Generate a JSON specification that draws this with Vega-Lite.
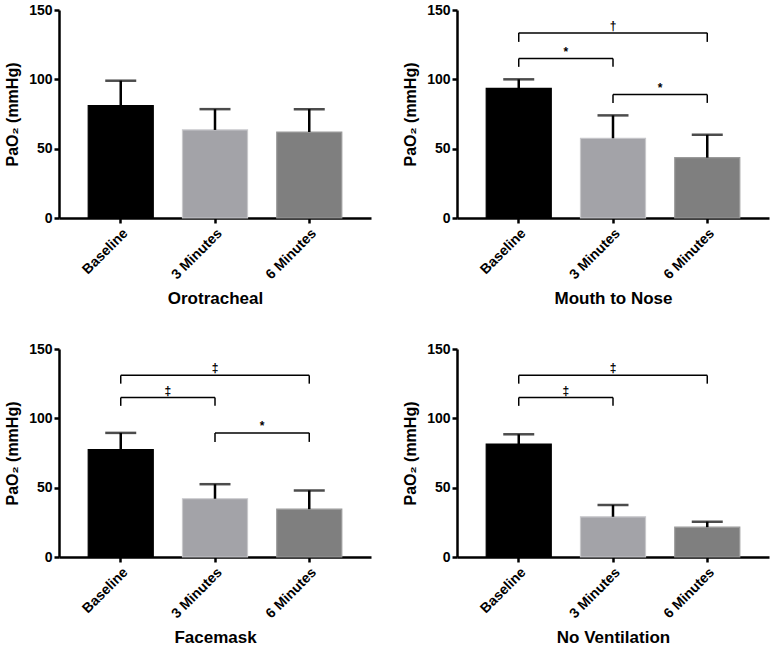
{
  "$schema": "https://vega.github.io/schema/vega-lite/v6.json",
  "background": "white",
  "padding": {"left": 4, "top": 3, "right": 2, "bottom": 1},
  "config": {
    "font": "Liberation Sans",
    "view": {"stroke": null},
    "axis": {
      "grid": false,
      "domainColor": "black",
      "domainWidth": 2.5,
      "tickColor": "black",
      "tickWidth": 2.5,
      "tickSize": 5,
      "labelColor": "black",
      "labelFont": "Liberation Sans",
      "labelFontWeight": "bold",
      "labelFontSize": 14,
      "titleColor": "black",
      "titleFont": "Liberation Sans",
      "titleFontWeight": "bold"
    },
    "axisX": {"labelAngle": -45, "titleFontSize": 17, "titlePadding": 9, "labelPadding": 3},
    "axisY": {"titleFontSize": 16, "titlePadding": 8, "labelPadding": 2}
  },
  "data": {
    "values": [
      {"kind": "bar", "panel": "Orotracheal", "group": "Baseline", "mean": 81, "err": 99},
      {"kind": "bar", "panel": "Orotracheal", "group": "3 Minutes", "mean": 63.5, "err": 78.5},
      {"kind": "bar", "panel": "Orotracheal", "group": "6 Minutes", "mean": 62, "err": 78.5},
      {"kind": "bar", "panel": "Mouth to Nose", "group": "Baseline", "mean": 93.5, "err": 100},
      {"kind": "bar", "panel": "Mouth to Nose", "group": "3 Minutes", "mean": 57.5, "err": 74},
      {"kind": "bar", "panel": "Mouth to Nose", "group": "6 Minutes", "mean": 43.5, "err": 60},
      {"kind": "bar", "panel": "Facemask", "group": "Baseline", "mean": 77.5, "err": 89.5},
      {"kind": "bar", "panel": "Facemask", "group": "3 Minutes", "mean": 42, "err": 52.5},
      {"kind": "bar", "panel": "Facemask", "group": "6 Minutes", "mean": 34.5, "err": 48},
      {"kind": "bar", "panel": "No Ventilation", "group": "Baseline", "mean": 81.5, "err": 88.5},
      {"kind": "bar", "panel": "No Ventilation", "group": "3 Minutes", "mean": 29, "err": 37.5},
      {"kind": "bar", "panel": "No Ventilation", "group": "6 Minutes", "mean": 21.5, "err": 25.5},
      {"kind": "bracket", "panel": "Mouth to Nose", "group": "Baseline", "to": "6 Minutes", "level": 133.5, "foot": 127, "sig": "†", "span": 2},
      {"kind": "bracket", "panel": "Mouth to Nose", "group": "Baseline", "to": "3 Minutes", "level": 115, "foot": 109, "sig": "*", "span": 1},
      {"kind": "bracket", "panel": "Mouth to Nose", "group": "3 Minutes", "to": "6 Minutes", "level": 89, "foot": 83, "sig": "*", "span": 1},
      {"kind": "bracket", "panel": "Facemask", "group": "Baseline", "to": "6 Minutes", "level": 131, "foot": 125, "sig": "‡", "span": 2},
      {"kind": "bracket", "panel": "Facemask", "group": "Baseline", "to": "3 Minutes", "level": 115, "foot": 109, "sig": "‡", "span": 1},
      {"kind": "bracket", "panel": "Facemask", "group": "3 Minutes", "to": "6 Minutes", "level": 89.5, "foot": 83, "sig": "*", "span": 1},
      {"kind": "bracket", "panel": "No Ventilation", "group": "Baseline", "to": "6 Minutes", "level": 131, "foot": 125, "sig": "‡", "span": 2},
      {"kind": "bracket", "panel": "No Ventilation", "group": "Baseline", "to": "3 Minutes", "level": 115, "foot": 109, "sig": "‡", "span": 1}
    ]
  },
  "columns": 2,
  "spacing": {"row": 35, "column": 31},
  "concat": [
    {
      "width": 312, "height": 208,
      "transform": [{"filter": "datum.panel === 'Orotracheal'"}],
      "encoding": {
        "x": {"field": "group", "type": "nominal", "sort": ["Baseline", "3 Minutes", "6 Minutes"],
              "scale": {"domain": ["Baseline", "3 Minutes", "6 Minutes"], "paddingInner": 0.31, "paddingOuter": 0.31},
              "axis": {"title": "Orotracheal"}}
      },
      "layer": [
        {"transform": [{"filter": "datum.kind === 'bar'"}],
         "mark": {"type": "bar", "strokeWidth": 1.2},
         "encoding": {
           "y": {"field": "mean", "type": "quantitative", "scale": {"domain": [0, 150], "nice": false},
                 "axis": {"title": "PaO₂ (mmHg)", "values": [0, 50, 100, 150]}},
           "color": {"field": "group", "type": "nominal", "legend": null,
                     "scale": {"domain": ["Baseline", "3 Minutes", "6 Minutes"], "range": ["#000000", "#a3a3a8", "#7f7f7f"]}},
           "stroke": {"field": "group", "type": "nominal", "legend": null,
                      "scale": {"domain": ["Baseline", "3 Minutes", "6 Minutes"], "range": ["#000000", "#c8c8cb", "#9a9a9a"]}}
         }},
        {"transform": [{"filter": "datum.kind === 'bar'"}],
         "mark": {"type": "rule", "color": "black", "strokeWidth": 2.5},
         "encoding": {"y": {"field": "mean", "type": "quantitative", "axis": {"title": "PaO₂ (mmHg)", "values": [0, 50, 100, 150]}}, "y2": {"field": "err"}}},
        {"transform": [{"filter": "datum.kind === 'bar'"}],
         "mark": {"type": "tick", "color": "black", "thickness": 2.5, "size": 31},
         "encoding": {"y": {"field": "err", "type": "quantitative", "axis": {"title": "PaO₂ (mmHg)", "values": [0, 50, 100, 150]}}}}
      ]
    },
    {
      "width": 312, "height": 208,
      "transform": [{"filter": "datum.panel === 'Mouth to Nose'"}],
      "encoding": {
        "x": {"field": "group", "type": "nominal", "sort": ["Baseline", "3 Minutes", "6 Minutes"],
              "scale": {"domain": ["Baseline", "3 Minutes", "6 Minutes"], "paddingInner": 0.31, "paddingOuter": 0.31},
              "axis": {"title": "Mouth to Nose"}}
      },
      "layer": [
        {"transform": [{"filter": "datum.kind === 'bar'"}],
         "mark": {"type": "bar", "strokeWidth": 1.2},
         "encoding": {
           "y": {"field": "mean", "type": "quantitative", "scale": {"domain": [0, 150], "nice": false},
                 "axis": {"title": "PaO₂ (mmHg)", "values": [0, 50, 100, 150]}},
           "color": {"field": "group", "type": "nominal", "legend": null,
                     "scale": {"domain": ["Baseline", "3 Minutes", "6 Minutes"], "range": ["#000000", "#a3a3a8", "#7f7f7f"]}},
           "stroke": {"field": "group", "type": "nominal", "legend": null,
                      "scale": {"domain": ["Baseline", "3 Minutes", "6 Minutes"], "range": ["#000000", "#c8c8cb", "#9a9a9a"]}}
         }},
        {"transform": [{"filter": "datum.kind === 'bar'"}],
         "mark": {"type": "rule", "color": "black", "strokeWidth": 2.5},
         "encoding": {"y": {"field": "mean", "type": "quantitative", "axis": {"title": "PaO₂ (mmHg)", "values": [0, 50, 100, 150]}}, "y2": {"field": "err"}}},
        {"transform": [{"filter": "datum.kind === 'bar'"}],
         "mark": {"type": "tick", "color": "black", "thickness": 2.5, "size": 31},
         "encoding": {"y": {"field": "err", "type": "quantitative", "axis": {"title": "PaO₂ (mmHg)", "values": [0, 50, 100, 150]}}}},
        {"transform": [{"filter": "datum.kind === 'bracket'"}],
         "mark": {"type": "rule", "color": "black", "strokeWidth": 1.5},
         "encoding": {"x2": {"field": "to"}, "y": {"field": "level", "type": "quantitative", "axis": {"title": "PaO₂ (mmHg)", "values": [0, 50, 100, 150]}}}},
        {"transform": [{"filter": "datum.kind === 'bracket'"}],
         "mark": {"type": "rule", "color": "black", "strokeWidth": 1.5},
         "encoding": {"y": {"field": "foot", "type": "quantitative", "axis": {"title": "PaO₂ (mmHg)", "values": [0, 50, 100, 150]}}, "y2": {"field": "level"}}},
        {"transform": [{"filter": "datum.kind === 'bracket'"}],
         "mark": {"type": "rule", "color": "black", "strokeWidth": 1.5},
         "encoding": {"x": {"field": "to", "type": "nominal", "axis": {"title": "Mouth to Nose"}}, "y": {"field": "foot", "type": "quantitative", "axis": {"title": "PaO₂ (mmHg)", "values": [0, 50, 100, 150]}}, "y2": {"field": "level"}}},
        {"transform": [{"filter": "datum.kind === 'bracket' && datum.span === 1"}],
         "mark": {"type": "text", "fontSize": 12, "fontWeight": "bold", "baseline": "alphabetic", "dy": -3, "color": "black"},
         "encoding": {"x": {"field": "group", "type": "nominal", "bandPosition": 1.2246, "axis": {"title": "Mouth to Nose"}}, "y": {"field": "level", "type": "quantitative", "axis": {"title": "PaO₂ (mmHg)", "values": [0, 50, 100, 150]}}, "text": {"field": "sig"}}},
        {"transform": [{"filter": "datum.kind === 'bracket' && datum.span === 2"}],
         "mark": {"type": "text", "fontSize": 12, "fontWeight": "bold", "baseline": "alphabetic", "dy": -3, "color": "black"},
         "encoding": {"x": {"field": "group", "type": "nominal", "bandPosition": 1.949, "axis": {"title": "Mouth to Nose"}}, "y": {"field": "level", "type": "quantitative", "axis": {"title": "PaO₂ (mmHg)", "values": [0, 50, 100, 150]}}, "text": {"field": "sig"}}}
      ]
    },
    {
      "width": 312, "height": 208,
      "transform": [{"filter": "datum.panel === 'Facemask'"}],
      "encoding": {
        "x": {"field": "group", "type": "nominal", "sort": ["Baseline", "3 Minutes", "6 Minutes"],
              "scale": {"domain": ["Baseline", "3 Minutes", "6 Minutes"], "paddingInner": 0.31, "paddingOuter": 0.31},
              "axis": {"title": "Facemask"}}
      },
      "layer": [
        {"transform": [{"filter": "datum.kind === 'bar'"}],
         "mark": {"type": "bar", "strokeWidth": 1.2},
         "encoding": {
           "y": {"field": "mean", "type": "quantitative", "scale": {"domain": [0, 150], "nice": false},
                 "axis": {"title": "PaO₂ (mmHg)", "values": [0, 50, 100, 150]}},
           "color": {"field": "group", "type": "nominal", "legend": null,
                     "scale": {"domain": ["Baseline", "3 Minutes", "6 Minutes"], "range": ["#000000", "#a3a3a8", "#7f7f7f"]}},
           "stroke": {"field": "group", "type": "nominal", "legend": null,
                      "scale": {"domain": ["Baseline", "3 Minutes", "6 Minutes"], "range": ["#000000", "#c8c8cb", "#9a9a9a"]}}
         }},
        {"transform": [{"filter": "datum.kind === 'bar'"}],
         "mark": {"type": "rule", "color": "black", "strokeWidth": 2.5},
         "encoding": {"y": {"field": "mean", "type": "quantitative", "axis": {"title": "PaO₂ (mmHg)", "values": [0, 50, 100, 150]}}, "y2": {"field": "err"}}},
        {"transform": [{"filter": "datum.kind === 'bar'"}],
         "mark": {"type": "tick", "color": "black", "thickness": 2.5, "size": 31},
         "encoding": {"y": {"field": "err", "type": "quantitative", "axis": {"title": "PaO₂ (mmHg)", "values": [0, 50, 100, 150]}}}},
        {"transform": [{"filter": "datum.kind === 'bracket'"}],
         "mark": {"type": "rule", "color": "black", "strokeWidth": 1.5},
         "encoding": {"x2": {"field": "to"}, "y": {"field": "level", "type": "quantitative", "axis": {"title": "PaO₂ (mmHg)", "values": [0, 50, 100, 150]}}}},
        {"transform": [{"filter": "datum.kind === 'bracket'"}],
         "mark": {"type": "rule", "color": "black", "strokeWidth": 1.5},
         "encoding": {"y": {"field": "foot", "type": "quantitative", "axis": {"title": "PaO₂ (mmHg)", "values": [0, 50, 100, 150]}}, "y2": {"field": "level"}}},
        {"transform": [{"filter": "datum.kind === 'bracket'"}],
         "mark": {"type": "rule", "color": "black", "strokeWidth": 1.5},
         "encoding": {"x": {"field": "to", "type": "nominal", "axis": {"title": "Facemask"}}, "y": {"field": "foot", "type": "quantitative", "axis": {"title": "PaO₂ (mmHg)", "values": [0, 50, 100, 150]}}, "y2": {"field": "level"}}},
        {"transform": [{"filter": "datum.kind === 'bracket' && datum.span === 1"}],
         "mark": {"type": "text", "fontSize": 12, "fontWeight": "bold", "baseline": "alphabetic", "dy": -3, "color": "black"},
         "encoding": {"x": {"field": "group", "type": "nominal", "bandPosition": 1.2246, "axis": {"title": "Facemask"}}, "y": {"field": "level", "type": "quantitative", "axis": {"title": "PaO₂ (mmHg)", "values": [0, 50, 100, 150]}}, "text": {"field": "sig"}}},
        {"transform": [{"filter": "datum.kind === 'bracket' && datum.span === 2"}],
         "mark": {"type": "text", "fontSize": 12, "fontWeight": "bold", "baseline": "alphabetic", "dy": -3, "color": "black"},
         "encoding": {"x": {"field": "group", "type": "nominal", "bandPosition": 1.949, "axis": {"title": "Facemask"}}, "y": {"field": "level", "type": "quantitative", "axis": {"title": "PaO₂ (mmHg)", "values": [0, 50, 100, 150]}}, "text": {"field": "sig"}}}
      ]
    },
    {
      "width": 312, "height": 208,
      "transform": [{"filter": "datum.panel === 'No Ventilation'"}],
      "encoding": {
        "x": {"field": "group", "type": "nominal", "sort": ["Baseline", "3 Minutes", "6 Minutes"],
              "scale": {"domain": ["Baseline", "3 Minutes", "6 Minutes"], "paddingInner": 0.31, "paddingOuter": 0.31},
              "axis": {"title": "No Ventilation"}}
      },
      "layer": [
        {"transform": [{"filter": "datum.kind === 'bar'"}],
         "mark": {"type": "bar", "strokeWidth": 1.2},
         "encoding": {
           "y": {"field": "mean", "type": "quantitative", "scale": {"domain": [0, 150], "nice": false},
                 "axis": {"title": "PaO₂ (mmHg)", "values": [0, 50, 100, 150]}},
           "color": {"field": "group", "type": "nominal", "legend": null,
                     "scale": {"domain": ["Baseline", "3 Minutes", "6 Minutes"], "range": ["#000000", "#a3a3a8", "#7f7f7f"]}},
           "stroke": {"field": "group", "type": "nominal", "legend": null,
                      "scale": {"domain": ["Baseline", "3 Minutes", "6 Minutes"], "range": ["#000000", "#c8c8cb", "#9a9a9a"]}}
         }},
        {"transform": [{"filter": "datum.kind === 'bar'"}],
         "mark": {"type": "rule", "color": "black", "strokeWidth": 2.5},
         "encoding": {"y": {"field": "mean", "type": "quantitative", "axis": {"title": "PaO₂ (mmHg)", "values": [0, 50, 100, 150]}}, "y2": {"field": "err"}}},
        {"transform": [{"filter": "datum.kind === 'bar'"}],
         "mark": {"type": "tick", "color": "black", "thickness": 2.5, "size": 31},
         "encoding": {"y": {"field": "err", "type": "quantitative", "axis": {"title": "PaO₂ (mmHg)", "values": [0, 50, 100, 150]}}}},
        {"transform": [{"filter": "datum.kind === 'bracket'"}],
         "mark": {"type": "rule", "color": "black", "strokeWidth": 1.5},
         "encoding": {"x2": {"field": "to"}, "y": {"field": "level", "type": "quantitative", "axis": {"title": "PaO₂ (mmHg)", "values": [0, 50, 100, 150]}}}},
        {"transform": [{"filter": "datum.kind === 'bracket'"}],
         "mark": {"type": "rule", "color": "black", "strokeWidth": 1.5},
         "encoding": {"y": {"field": "foot", "type": "quantitative", "axis": {"title": "PaO₂ (mmHg)", "values": [0, 50, 100, 150]}}, "y2": {"field": "level"}}},
        {"transform": [{"filter": "datum.kind === 'bracket'"}],
         "mark": {"type": "rule", "color": "black", "strokeWidth": 1.5},
         "encoding": {"x": {"field": "to", "type": "nominal", "axis": {"title": "No Ventilation"}}, "y": {"field": "foot", "type": "quantitative", "axis": {"title": "PaO₂ (mmHg)", "values": [0, 50, 100, 150]}}, "y2": {"field": "level"}}},
        {"transform": [{"filter": "datum.kind === 'bracket' && datum.span === 1"}],
         "mark": {"type": "text", "fontSize": 12, "fontWeight": "bold", "baseline": "alphabetic", "dy": -3, "color": "black"},
         "encoding": {"x": {"field": "group", "type": "nominal", "bandPosition": 1.2246, "axis": {"title": "No Ventilation"}}, "y": {"field": "level", "type": "quantitative", "axis": {"title": "PaO₂ (mmHg)", "values": [0, 50, 100, 150]}}, "text": {"field": "sig"}}},
        {"transform": [{"filter": "datum.kind === 'bracket' && datum.span === 2"}],
         "mark": {"type": "text", "fontSize": 12, "fontWeight": "bold", "baseline": "alphabetic", "dy": -3, "color": "black"},
         "encoding": {"x": {"field": "group", "type": "nominal", "bandPosition": 1.949, "axis": {"title": "No Ventilation"}}, "y": {"field": "level", "type": "quantitative", "axis": {"title": "PaO₂ (mmHg)", "values": [0, 50, 100, 150]}}, "text": {"field": "sig"}}}
      ]
    }
  ]
}
